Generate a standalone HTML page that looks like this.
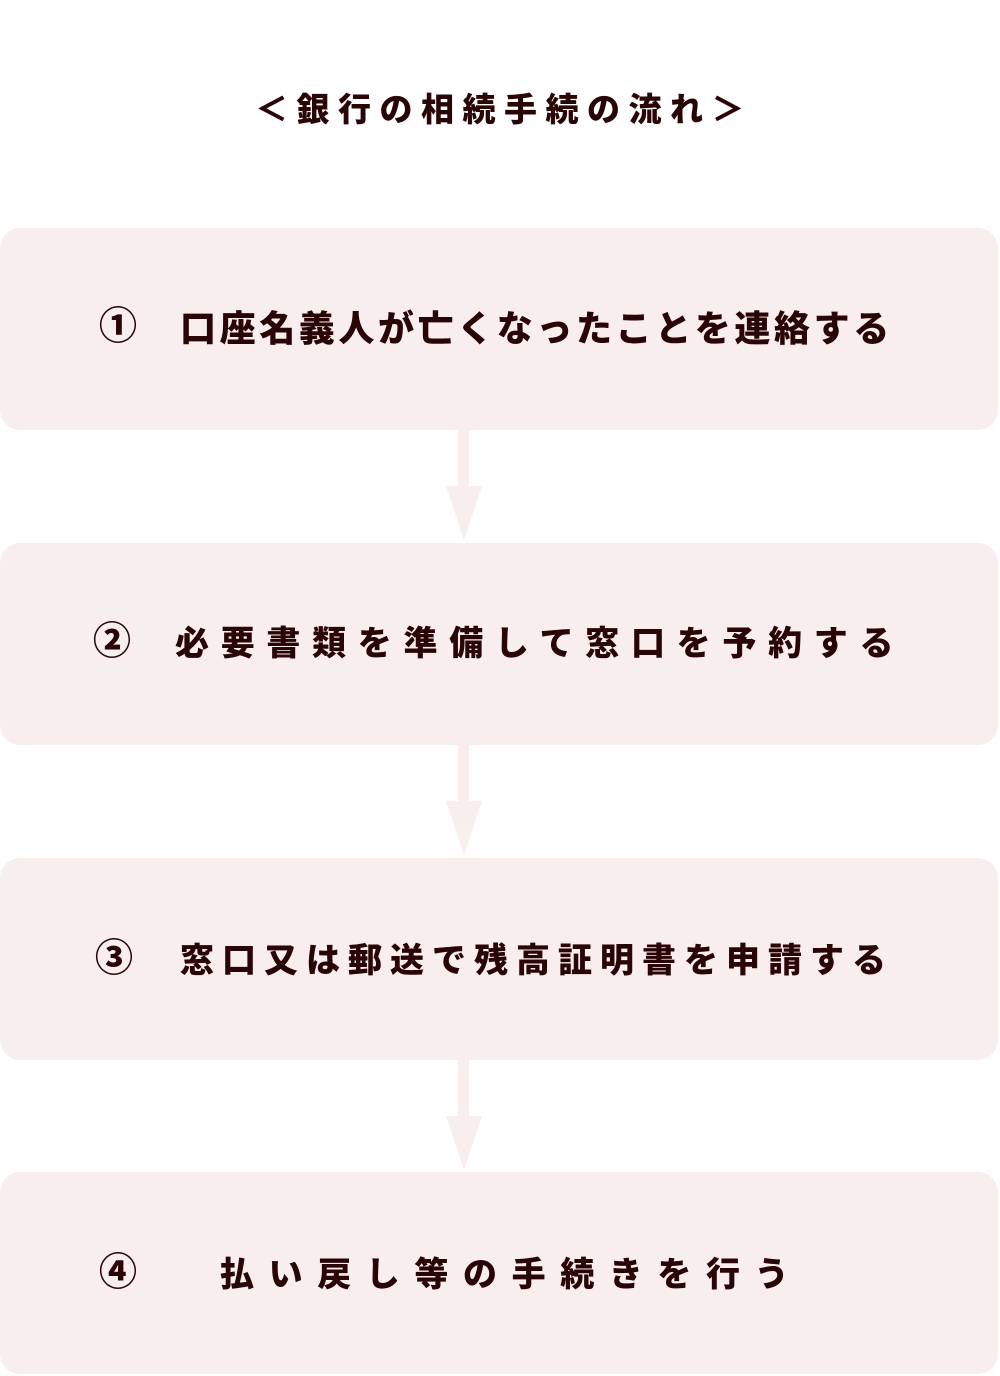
<!DOCTYPE html>
<html><head><meta charset="utf-8"><style>
body{margin:0;width:1000px;height:1376px;background:#fff;position:relative;overflow:hidden;font-family:"Liberation Sans","Noto Sans CJK JP",sans-serif;font-weight:900;color:#2a0505}
.box{position:absolute;left:0;width:998px;height:202px;background:#f9eeee;border-radius:20px}
.t{position:absolute;font-size:34px;line-height:40px;white-space:nowrap;font-weight:900}
.n{font-size:38px}
svg{position:absolute;left:0;top:0}
</style></head><body>
<div class="t" style="left:255px;top:90px;letter-spacing:8.5px;font-size:33px">＜銀行の相続手続の流れ＞</div>
<div class="box" style="top:228px"></div>
<div class="box" style="top:543px"></div>
<div class="box" style="top:858px"></div>
<div class="box" style="top:1172px"></div>
<svg width="1000" height="1376">
<g fill="#f9eeee">
<rect x="458" y="430" width="11" height="56"/><polygon points="446,486 482,486 464,540"/>
<rect x="458" y="745" width="11" height="56"/><polygon points="446,801 482,801 464,855"/>
<rect x="458" y="1060" width="11" height="56"/><polygon points="446,1116 482,1116 464,1170"/>
</g></svg>
<div class="t n" style="left:99px;top:307px">①</div>
<div class="t" style="left:180px;top:309px;font-size:36px;letter-spacing:3.6px">口座名義人が亡くなったことを連絡する</div>
<div class="t n" style="left:93px;top:622px">②</div>
<div class="t" style="left:175px;top:624px;letter-spacing:11.7px">必要書類を準備して窓口を予約する</div>
<div class="t n" style="left:95px;top:939px">③</div>
<div class="t" style="left:180px;top:941px;letter-spacing:8px">窓口又は郵送で残高証明書を申請する</div>
<div class="t n" style="left:99px;top:1253px">④</div>
<div class="t" style="left:220px;top:1255px;letter-spacing:14.6px">払い戻し等の手続きを行う</div>
</body></html>
